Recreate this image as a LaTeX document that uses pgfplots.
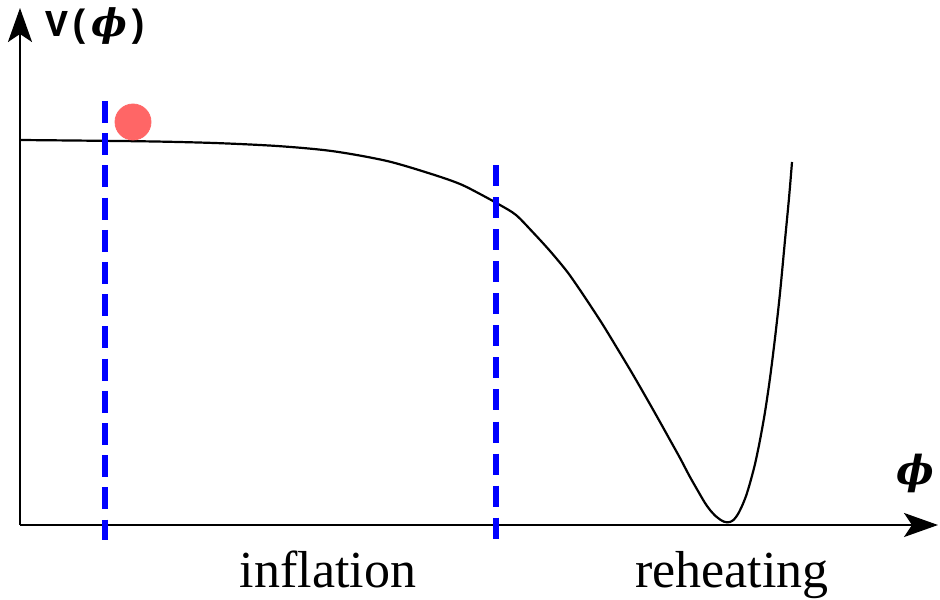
\documentclass[border=0pt]{standalone}
\usepackage{fontspec}
\setmainfont{Liberation Serif}
\newfontfamily\courfont{Liberation Mono}
\newfontfamily\phifont{DejaVu Serif}
\newcommand\lp{\char40}
\newcommand\rp{\char41}
\usepackage{pgfplots}
\pgfplotsset{compat=1.18}
\usetikzlibrary{arrows.meta}
\definecolor{dotred}{RGB}{255,102,102}
\begin{document}
\begin{tikzpicture}
\path (-10pt,-37pt) rectangle (460pt,262.5pt);
\begin{axis}[
  at={(0pt,0pt)}, anchor=south west,
  scale only axis,
  width=459pt, height=258.5pt,
  xmin=20, xmax=938, ymin=74, ymax=591,
  axis lines=left,
  axis line style={line width=1.3pt, -{Stealth[length=17pt,width=12pt,inset=4pt]}},
  xtick=\empty, ytick=\empty,
  clip=false,
]
\addplot[black, line width=1.1pt, smooth] coordinates {
(20,459) (100,458.2) (160,457.4) (220,455.8) (280,452.8) (333,447.8) (387,438)
(433,424.5) (460,415) (480,405) (500,394) (516,384) (533,366.6) (550,348)
(567,327.5) (580,309) (590,294) (603,274) (617,251) (632,226) (647,200)
(660,177) (670,159) (680,141) (690,122) (700,104.5) (705,96) (710,89)
(715,83.5) (720,79.5) (724,77.3) (727,76.7) (730,77) (734,79.5) (738,85)
(742,93) (746,103) (750,116) (755,135) (760,159) (765,187) (770,221)
(775,261) (780,306) (785,359) (789,401) (792,437)
};
\addplot[blue, line width=3pt, dash pattern=on 11pt off 5.1pt] coordinates {(105,498) (105,59)};
\addplot[blue, line width=3pt, dash pattern=on 10.5pt off 5.5pt] coordinates {(496,433.5) (496,54)};
\addplot[only marks, mark=*, mark size=9pt, color=dotred] coordinates {(133,477)};
\end{axis}
\path (12.5pt,244pt) node[anchor=base west, inner sep=0pt, font=\fontsize{19}{19}\selectfont\courfont\bfseries] {V\lp{\phifont\bfseries\itshape ϕ}\rp};
\path (447.5pt,26pt) node[inner sep=0pt, font=\fontsize{20}{20}\selectfont\phifont\bfseries\itshape] {ϕ};
\path (154pt,-31pt) node[anchor=base, inner sep=0pt, font=\fontsize{26}{26}\selectfont] {inflation};
\path (356pt,-31pt) node[anchor=base, inner sep=0pt, font=\fontsize{26}{26}\selectfont] {reheating};
\end{tikzpicture}
\end{document}
